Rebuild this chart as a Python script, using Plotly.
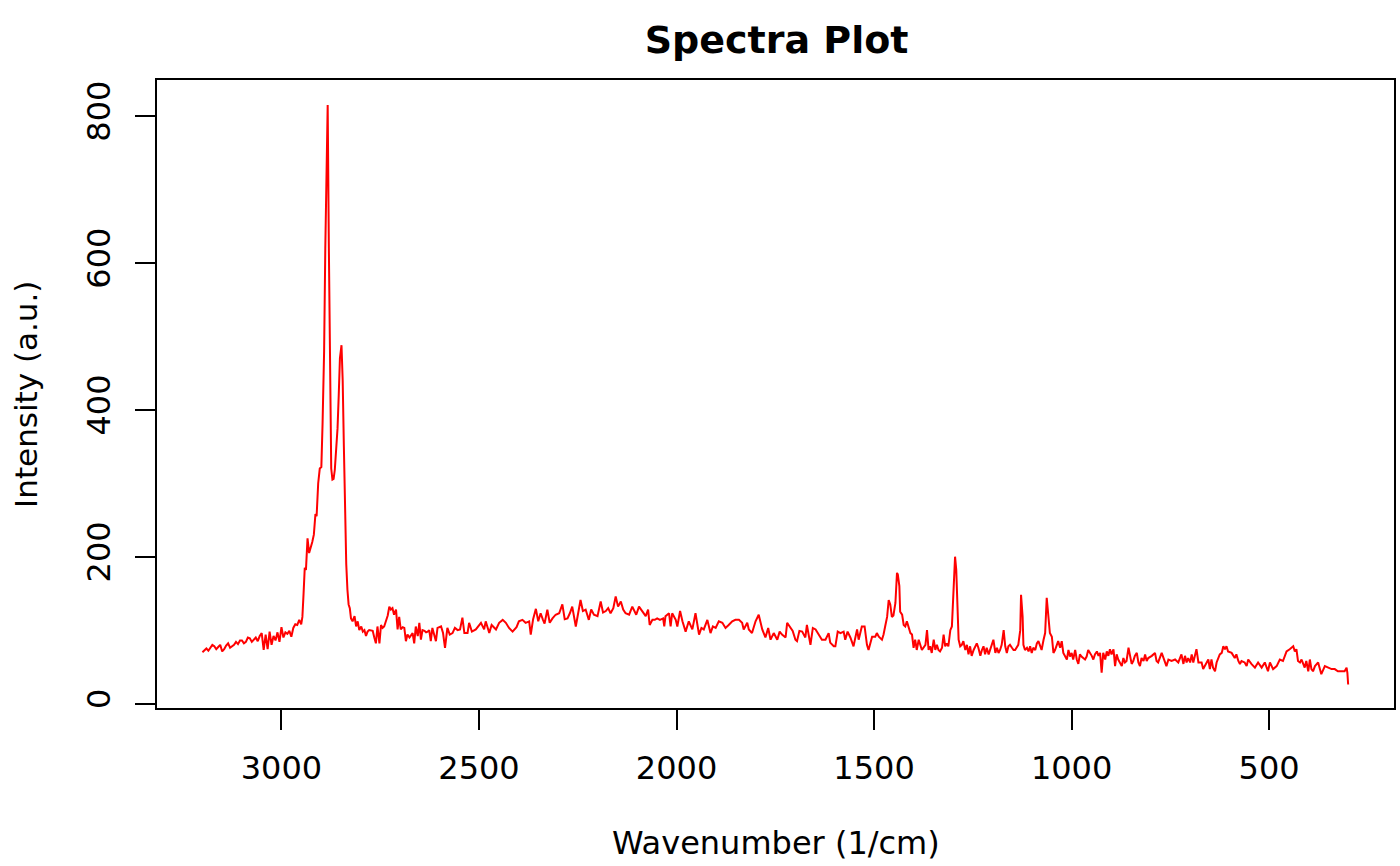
"""Raman spectrum, drawn in the style of an R base-graphics plot."""

import plotly.graph_objects as go

# wavenumber (1/cm), high to low
wavenumber = [
    3200, 3195, 3190, 3185, 3180, 3175, 3170, 3165, 3160, 3155, 3150, 3145, 3140, 3135,
    3130, 3125, 3120, 3115, 3110, 3105, 3100, 3095, 3090, 3085, 3080, 3075, 3070, 3065,
    3060, 3055, 3050, 3045, 3040, 3035, 3030, 3025, 3020, 3015, 3010, 3005, 3000, 2995,
    2990, 2985, 2980, 2975, 2970, 2965, 2960, 2955, 2950, 2947, 2944, 2941, 2938, 2934,
    2930, 2926, 2922, 2918, 2914, 2911, 2907, 2903, 2899, 2896, 2892, 2889, 2886, 2883,
    2880, 2877, 2874, 2871, 2868, 2865, 2862, 2858, 2855, 2852, 2848, 2845, 2842, 2839,
    2836, 2833, 2830, 2827, 2824, 2820, 2815, 2811, 2807, 2803, 2798, 2794, 2790, 2786,
    2782, 2778, 2773, 2769, 2765, 2761, 2757, 2752, 2748, 2744, 2740, 2735, 2731, 2727,
    2723, 2719, 2715, 2710, 2706, 2702, 2698, 2693, 2689, 2685, 2681, 2676, 2672, 2668,
    2664, 2660, 2655, 2651, 2647, 2643, 2638, 2634, 2630, 2626,
    2622, 2618, 2609, 2605, 2596, 2591, 2586, 2580, 2574, 2567, 2561, 2554, 2548, 2542,
    2537, 2529, 2525, 2518, 2508, 2495, 2487, 2483, 2474, 2468, 2457, 2449, 2440, 2432,
    2424, 2415, 2405, 2399, 2390, 2382, 2373, 2369, 2363, 2356, 2350, 2344, 2338, 2334,
    2327, 2321, 2314, 2306, 2297, 2289, 2283, 2276, 2270, 2264, 2255, 2249, 2243, 2237,
    2230, 2222, 2216, 2209, 2200, 2192, 2186, 2179, 2173, 2167, 2160, 2154, 2148, 2141,
    2135, 2129, 2120, 2112, 2102, 2095, 2087, 2078, 2072, 2068, 2061, 2055, 2049,
    2042, 2034, 2031, 2028, 2019, 2015, 2011, 2002, 1998, 1991, 1985, 1977, 1969, 1960,
    1952, 1943, 1937, 1931, 1922, 1914, 1908, 1901, 1893, 1884, 1876, 1868, 1859, 1851,
    1842, 1834, 1830, 1821, 1817, 1809, 1800, 1792, 1783, 1775, 1768, 1762, 1754, 1745,
    1739, 1733, 1724, 1720, 1712, 1706, 1699, 1695, 1689, 1682, 1674, 1670, 1661, 1655,
    1648, 1640, 1632, 1623, 1615, 1611, 1602, 1598, 1592, 1585, 1577, 1573, 1567, 1560,
    1552, 1543,
    1539, 1531, 1524, 1518, 1514, 1505, 1497, 1493, 1488, 1480, 1476, 1472, 1467, 1463,
    1459, 1455, 1451, 1446, 1442, 1440, 1436, 1434, 1429, 1425, 1421, 1417, 1413, 1408,
    1404, 1400, 1396, 1392, 1387, 1383, 1379, 1370, 1366, 1362, 1358, 1354, 1349, 1345,
    1341, 1337, 1333, 1328, 1324, 1320, 1316, 1312, 1307, 1303, 1299, 1295, 1292, 1289,
    1286, 1282, 1278, 1274, 1269, 1265, 1261, 1257, 1253, 1248, 1244, 1240, 1236, 1231,
    1227, 1223, 1219, 1215, 1210, 1206, 1202, 1198, 1193, 1189, 1185, 1181, 1177, 1172,
    1168, 1164, 1160, 1156, 1151, 1147, 1143, 1135, 1130, 1128, 1124, 1122, 1118, 1113,
    1109, 1105, 1101, 1097, 1092, 1088, 1084, 1080, 1076, 1071, 1067, 1063, 1059, 1055,
    1050, 1046, 1042, 1038, 1034, 1029, 1025, 1021, 1017, 1012, 1008, 1004, 1000, 996,
    991, 987, 983, 979, 975, 970, 966, 962, 958,
    949, 945, 941, 936, 932, 928, 924, 920, 915, 911, 907, 903, 899, 894, 890, 886, 882,
    877, 873, 869, 865, 861, 856, 852, 848, 844, 840, 835, 831, 827, 823, 818, 814, 810,
    806, 797, 789, 785, 781, 772, 764, 760, 755, 747, 738, 730, 722, 717, 713, 709, 705,
    700, 696, 692, 688, 684, 679, 671, 667, 663, 654, 650, 646, 642, 637, 633, 629, 625,
    620, 616, 612, 608, 604, 595, 587, 583, 578, 574, 570, 562, 557, 553, 545, 536, 528,
    519, 511, 503, 498, 490, 481, 473, 465, 460, 456, 448, 439, 435, 431, 427, 422, 418,
    410, 406, 401, 397, 393, 389, 384, 376, 372, 368, 359, 351, 342, 334, 326, 317, 309,
    304, 302, 300,
]

# intensity (a.u.) at each wavenumber above
intensity = [
    70, 73, 75, 72, 76, 80, 78, 74, 77, 80, 71, 74, 79, 82,
    76, 78, 80, 84, 81, 86, 86, 82, 84, 90, 89, 84, 87, 90,
    85, 92, 96, 73, 94, 74, 98, 80, 92, 86, 97, 84, 104, 90,
    97, 95, 99, 91, 103, 108, 107, 114, 108, 118, 150, 185, 182, 225,
    205, 212, 220, 230, 258, 255, 300, 320, 322, 380, 480, 620, 740, 815,
    620, 420, 320, 305, 306, 318, 340, 375, 420, 470, 488, 440, 350, 240,
    190, 155, 135, 130, 116, 112, 119, 105, 112, 100, 105, 98, 100, 92,
    98, 100, 99, 99, 90, 82, 105, 82, 107, 103, 105, 114, 120, 132,
    128, 130, 121, 128, 101, 118, 101, 104, 103, 85, 94, 90, 93, 96,
    82, 105, 92, 110, 87, 100, 99, 97, 98, 100,
    85, 103, 85, 103, 105, 96, 76, 103, 94, 96, 103, 100, 101, 117,
    96, 96, 110, 98, 101, 110, 101, 112, 96, 107, 101, 110, 114, 110,
    103, 98, 104, 112, 114, 110, 112, 94, 115, 129, 112, 123, 114, 109,
    128, 110, 116, 121, 123, 135, 115, 116, 123, 132, 105, 124, 141, 126,
    128, 114, 128, 121, 119, 139, 124, 126, 130, 123, 130, 146, 132, 139,
    128, 123, 121, 132, 121, 132, 126, 119, 128, 107, 114, 114, 116,
    114, 116, 105, 119, 123, 105, 123, 114, 105, 126, 112, 98, 112, 101,
    123, 94, 103, 101, 114, 96, 105, 103, 112, 110, 103, 107, 112, 114,
    114, 110, 101, 110, 101, 96, 112, 121, 101, 90, 103, 87, 96, 87,
    98, 94, 90, 110, 103, 99, 87, 85, 99, 98, 90, 107, 80, 103,
    101, 94, 87, 87, 96, 83, 78, 78, 98, 96, 98, 87, 98, 90,
    78, 101,
    87, 105, 105, 80, 73, 91, 91, 96, 91, 87, 94, 105, 118, 141,
    135, 118, 120, 137, 178, 176, 160, 125, 121, 107, 105, 112, 105, 96,
    94, 76, 87, 73, 87, 78, 73, 80, 100, 73, 78, 69, 87, 73,
    80, 73, 71, 76, 94, 78, 82, 78, 100, 105, 150, 200, 182, 141,
    87, 78, 80, 85, 73, 80, 67, 78, 65, 73, 78, 82, 76, 65,
    73, 78, 67, 76, 67, 73, 82, 87, 69, 76, 69, 73, 80, 100,
    78, 69, 78, 80, 76, 73, 73, 80, 100, 148, 118, 80, 73, 76,
    71, 78, 69, 76, 73, 82, 85, 80, 73, 87, 96, 144, 123, 96,
    91, 69, 73, 78, 85, 76, 85, 69, 64, 60, 73, 64, 69, 60,
    73, 60, 54, 67, 64, 62, 60, 64, 73,
    65, 60, 67, 71, 65, 69, 42, 69, 60, 71, 65, 74, 67, 74, 51, 67, 60,
    54, 51, 62, 56, 58, 76, 65, 54, 58, 65, 69, 56, 51, 62, 58, 67, 58,
    62, 65, 69, 58, 56, 69, 56, 51, 60, 58, 60, 56, 67, 54, 65, 56, 62,
    56, 67, 56, 65, 74, 56, 56, 47, 51, 60, 47, 60, 49, 44, 56, 62, 67,
    69, 78, 74, 78, 71, 69, 62, 67, 58, 54, 58, 56, 51, 60, 54, 49, 56,
    49, 56, 44, 56, 47, 51, 60, 58, 65, 71, 74, 78, 71, 74, 58, 56, 60,
    49, 58, 44, 60, 47, 44, 51, 56, 47, 40, 51, 49, 47, 47, 44, 44, 44,
    49, 42, 26,
]

x_ticks = [500, 1000, 1500, 2000, 2500, 3000]
y_ticks = [0, 200, 400, 600, 800]

FONT = "DejaVu Sans"

fig = go.Figure()
fig.add_trace(
    go.Scatter(
        x=wavenumber,
        y=intensity,
        mode="lines",
        line=dict(color="#ff0000", width=2),
        showlegend=False,
    )
)

axis_common = dict(
    showgrid=False,
    zeroline=False,
    showline=True,
    linecolor="black",
    linewidth=2,
    mirror=True,
    ticks="outside",
    ticklen=20,
    tickwidth=2,
    tickcolor="black",
    tickfont=dict(family=FONT, size=32, color="black"),
)

fig.update_xaxes(
    range=[3315, 184],
    tickvals=x_ticks,
    ticklabelstandoff=11,
    **axis_common,
)
fig.update_yaxes(
    range=[-6, 849],
    tickvals=y_ticks,
    tickangle=-90,
    ticklabelstandoff=12,
    **axis_common,
)

fig.update_layout(
    width=1400,
    height=866,
    margin=dict(l=157, r=4, t=80, b=158),
    paper_bgcolor="white",
    plot_bgcolor="white",
    title=dict(
        text="<b>Spectra Plot</b>",
        font=dict(family=FONT, size=38, color="black"),
        x=0.5547,
        xanchor="center",
        y=1 - 40 / 866,
        yanchor="middle",
    ),
    annotations=[
        dict(
            text="Wavenumber (1/cm)",
            xref="paper", yref="paper",
            x=0.5, y=-0.215,
            xanchor="center", yanchor="middle",
            showarrow=False,
            font=dict(family=FONT, size=32, color="black"),
        ),
        dict(
            text="Intensity (a.u.)",
            xref="paper", yref="paper",
            x=-0.106, y=0.5,
            xanchor="center", yanchor="middle",
            textangle=-90,
            showarrow=False,
            font=dict(family=FONT, size=31, color="black"),
        ),
    ],
)

# the page's default body margin shifts and squeezes the figure
fig.write_html(
    "out.html",
    config={"displayModeBar": False},
    post_script="document.body.style.margin='0';document.body.style.overflow='hidden';",
)
